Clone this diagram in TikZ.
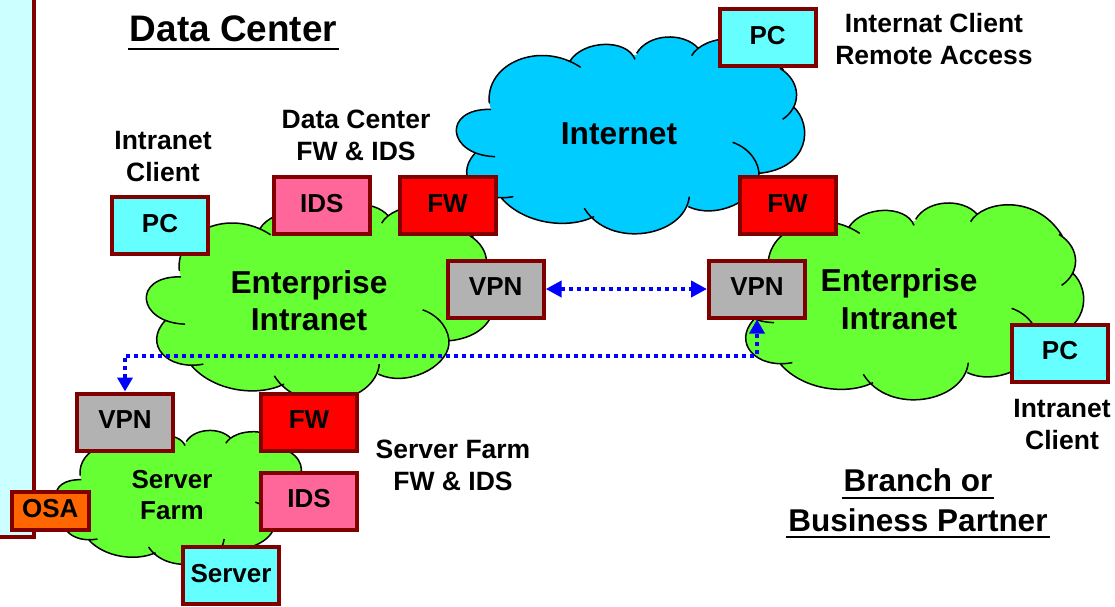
\documentclass[tikz,border=0pt]{standalone}
\usepackage{fontspec}
\setmainfont{Liberation Sans}
\usetikzlibrary{arrows.meta}
\definecolor{boxline}{HTML}{800000}
\definecolor{pccyan}{HTML}{66FFFF}
\definecolor{fwred}{HTML}{FF0000}
\definecolor{idspink}{HTML}{FF6699}
\definecolor{vpngray}{HTML}{B2B2B2}
\definecolor{osaorange}{HTML}{FF6600}
\definecolor{cloudgreen}{HTML}{66FF33}
\definecolor{netblue}{HTML}{00CCFF}
\definecolor{panelcyan}{HTML}{CCFFFF}
\newcommand{\ulin}[2]{\setbox0\hbox{#2}\leavevmode\rlap{\kern-2pt\smash{\rule[-#1]{\dimexpr\wd0+4pt\relax}{2pt}}}\box0}
\tikzset{
  x=1pt,y=-1pt,
  devbox/.style={draw=boxline,line width=4pt,minimum width=96pt,minimum height=57pt,inner sep=0pt,outer sep=2pt,text height=18.6pt,text depth=5pt,font=\fontsize{26}{26}\selectfont\bfseries},
  pcbox/.style={devbox,fill=pccyan},
  fwbox/.style={devbox,fill=fwred},
  idsbox/.style={devbox,fill=idspink},
  vpnbox/.style={devbox,fill=vpngray},
  osabox/.style={devbox,fill=osaorange,minimum width=77pt,minimum height=38pt},
  labeltext/.style={align=center,inner sep=0pt,font=\fontsize{26.5}{32}\selectfont\bfseries},
  cloudtext/.style={align=center,inner sep=0pt,font=\fontsize{31.7}{37.5}\selectfont\bfseries},
  farmtext/.style={align=center,inner sep=0pt,font=\fontsize{26}{31}\selectfont\bfseries},
  titletext/.style={align=center,inner sep=0pt,font=\fontsize{31.5}{39.5}\selectfont\bfseries},
  bigtitle/.style={inner sep=0pt,font=\fontsize{36.9}{40}\selectfont\bfseries},
  bluelink/.style={draw=blue,line width=4pt,dash pattern=on 4pt off 4pt},
  bothtips/.style={{Triangle[length=16pt,width=16pt]}-{Triangle[length=16pt,width=16pt]}},
  smalltips/.style={{Triangle[length=14pt,width=15pt]}-{Triangle[length=14pt,width=15pt]}},
}
\newcommand{\cloudat}[5]{%
  \begin{scope}[shift={(#2,#3)},xscale=#4,yscale=#5]
  \fill[#1]
    (153,328) -- (148,310) -- (400,190) -- (590,165) -- (770,150) -- (1025,210) -- (1045,340) -- (957,525) -- (745,620) -- (445,640) -- (200,595) -- (105,460) -- cycle
    (148,310) .. controls (135,190) and (300,120) .. (422,202) -- (590,390) -- cycle
    (390,183) .. controls (430,120) and (560,115) .. (585,178) -- (590,390) -- cycle
    (590,160) .. controls (625,100) and (730,95) .. (775,145) -- (590,390) -- cycle
    (755,167) .. controls (790,105) and (950,80) .. (1030,210) -- (590,390) -- cycle
    (1020,205) .. controls (1085,245) and (1085,320) .. (1028,358) -- (590,390) -- cycle
    (1060,320) .. controls (1120,375) and (1110,505) .. (957,520) -- (590,390) -- cycle
    (957,530) .. controls (950,600) and (830,660) .. (745,620) -- (590,390) -- cycle
    (748,590) .. controls (735,710) and (510,750) .. (433,625) -- (590,390) -- cycle
    (462,650) .. controls (380,690) and (250,670) .. (185,595) -- (590,390) -- cycle
    (220,590) .. controls (110,610) and (40,530) .. (105,460) -- (590,390) -- cycle
    (165,470) .. controls (20,465) and (5,325) .. (153,328) -- (590,390) -- cycle;
  \draw[black,line width=1.5pt]
    (148,310) .. controls (135,190) and (300,120) .. (422,202)
    (390,183) .. controls (430,120) and (560,115) .. (585,178)
    (590,160) .. controls (625,100) and (730,95) .. (775,145)
    (755,167) .. controls (790,105) and (950,80) .. (1030,210)
    (1020,205) .. controls (1085,245) and (1085,320) .. (1028,358)
    (1060,320) .. controls (1120,375) and (1110,505) .. (957,520)
    (878,427) .. controls (930,445) and (960,490) .. (957,530)
    (957,530) .. controls (950,600) and (830,660) .. (745,620)
    (748,590) .. controls (735,710) and (510,750) .. (433,625)
    (462,650) .. controls (380,690) and (250,670) .. (185,595)
    (220,590) .. controls (110,610) and (40,530) .. (105,460)
    (165,470) .. controls (20,465) and (5,325) .. (153,328);
  \end{scope}}
\begin{document}
\begin{tikzpicture}
\useasboundingbox (0,0) rectangle (1115,606);
\clip (0,0) rectangle (1115,606);
\fill[white] (0,0) rectangle (1115,606);
% side panel
\draw[draw=boxline,fill=panelcyan,line width=3.8pt] (-10,-10) rectangle (34,537);
% clouds
\cloudat{netblue}{440}{0}{0.3333}{0.3333}
\cloudat{cloudgreen}{130}{167.5}{0.3333}{0.3333}
\cloudat{cloudgreen}{719}{166}{0.3333}{0.3333}
\cloudat{cloudgreen}{44.67}{405.3}{0.24}{0.2267}
% devices
\node[pcbox] (pcnet) at (767.7,37.8) {PC};
\node[fwbox] (fwdc) at (447.5,205.5) {FW};
\node[fwbox] (fwbranch) at (787.5,205.5) {FW};
\node[idsbox] (idsdc) at (321.7,205.5) {IDS};
\node[pcbox] (pcdc) at (160,225.5) {PC};
\node[vpnbox] (vpndc) at (495.7,289) {VPN};
\node[vpnbox] (vpnbranch) at (757,289) {VPN};
\node[pcbox] (pcbranch) at (1060,353) {PC};
\node[vpnbox] (vpnfarm) at (125,422) {VPN};
\node[fwbox] (fwfarm) at (309,422) {FW};
\node[idsbox] (idsfarm) at (309,501) {IDS};
\node[pcbox] (server) at (231,575.5) {Server};
\node[osabox] (osa) at (50.3,511) {OSA};
% links
\coordinate (route) at (440,355.7);
\draw[bluelink,bothtips] (vpndc.east) -- (vpnbranch.west);
\draw[bluelink,smalltips] (vpnfarm.north) |- (route) -| (vpnbranch.south);
% labels
\node[bigtitle,anchor=base] (dctitle) at (233.5,41.7) {\ulin{8.7pt}{Data Center}};
\node[titletext] (branchtitle) at (918,500) {\ulin{7.3pt}{Branch or}\\\ulin{7.3pt}{Business Partner}};
\node[cloudtext] (inetlabel) at (619,133.5) {Internet};
\node[cloudtext] (entl) at (309,300.5) {Enterprise\\Intranet};
\node[cloudtext] (entr) at (899,299) {Enterprise\\Intranet};
\node[farmtext] (farm) at (172,495.5) {Server\\Farm};
\node[labeltext] (lblclient) at (163,157) {Intranet\\Client};
\node[labeltext] (lbldcfw) at (356,135.5) {Data Center\\FW \& IDS};
\node[labeltext] (lblremote) at (934,39.5) {Internat Client\\Remote Access};
\node[labeltext] (lblfarm) at (453,465.5) {Server Farm\\FW \& IDS};
\node[labeltext] (lblclientr) at (1062,424.5) {Intranet\\Client};
\end{tikzpicture}
\end{document}
